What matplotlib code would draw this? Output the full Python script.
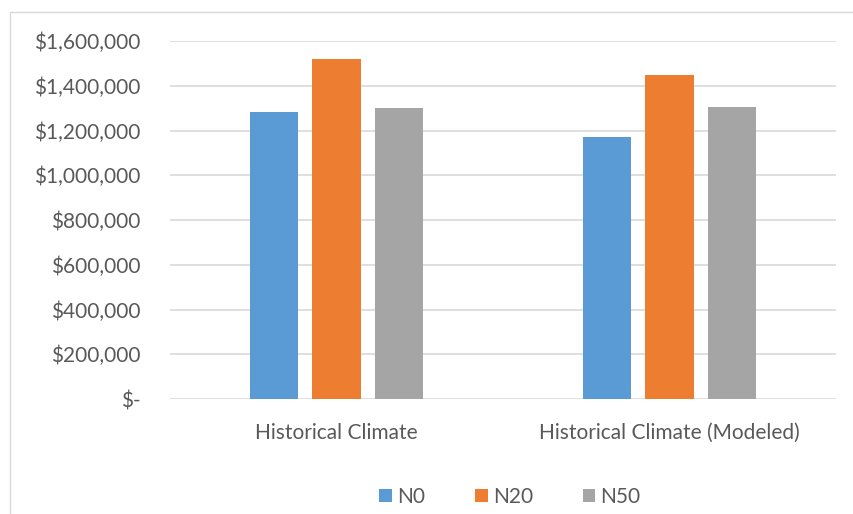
import numpy as np
import matplotlib.pyplot as plt
from matplotlib.patches import Rectangle
from matplotlib.ticker import FuncFormatter

categories = ['Historical Climate', 'Historical Climate (Modeled)']
series = ['N0', 'N20', 'N50']
n0 = [1284000, 1169000]
n20 = [1518000, 1447000]
n50 = [1299000, 1303000]
colors = ['#5b9bd5', '#ed7d31', '#a5a5a5']

plt.rcParams['font.family'] = ['Lato', 'DejaVu Sans']
text_col = '#595959'

fig = plt.figure(figsize=(8.54, 5.14), dpi=100)
ax = fig.add_axes([170/854, 1-399/514, 666/854, 358/514])

# chart area border
fig.patches.append(Rectangle((10/854, -0.1), 1.0, 1-12/514+0.1,
                             transform=fig.transFigure, fill=False,
                             edgecolor='#d9d9d9', linewidth=1))

x = np.arange(len(categories))
w = 0.147
step = 0.1877
for i, (vals, name) in enumerate(zip([n0, n20, n50], series)):
    ax.bar(x + (i-1)*step, vals, width=w, color=colors[i], label=name, zorder=3)

ax.set_xlim(-0.5, 1.5)
ax.set_ylim(0, 1600000)
ax.set_yticks(np.arange(0, 1600001, 200000))
ax.yaxis.set_major_formatter(FuncFormatter(lambda v, p: '$-' if v == 0 else '${:,.0f}'.format(v)))
ax.grid(axis='y', color='#d9d9d9', linewidth=1.2, zorder=0)
ax.set_xticks(x)
ax.set_xticklabels(categories)
for s in ax.spines.values():
    s.set_visible(False)
ax.tick_params(length=0, labelsize=15, colors=text_col)
ax.tick_params(axis='y', pad=21)
ax.tick_params(axis='x', pad=17)

leg = fig.legend(loc='center', bbox_to_anchor=(510/854, 1-497/514), ncol=3,
                 frameon=False, fontsize=15, handlelength=0.6, handleheight=0.6,
                 columnspacing=2.4, handletextpad=0.25)
for t in leg.get_texts():
    t.set_color(text_col)

fig.savefig('out.png', dpi=100)
